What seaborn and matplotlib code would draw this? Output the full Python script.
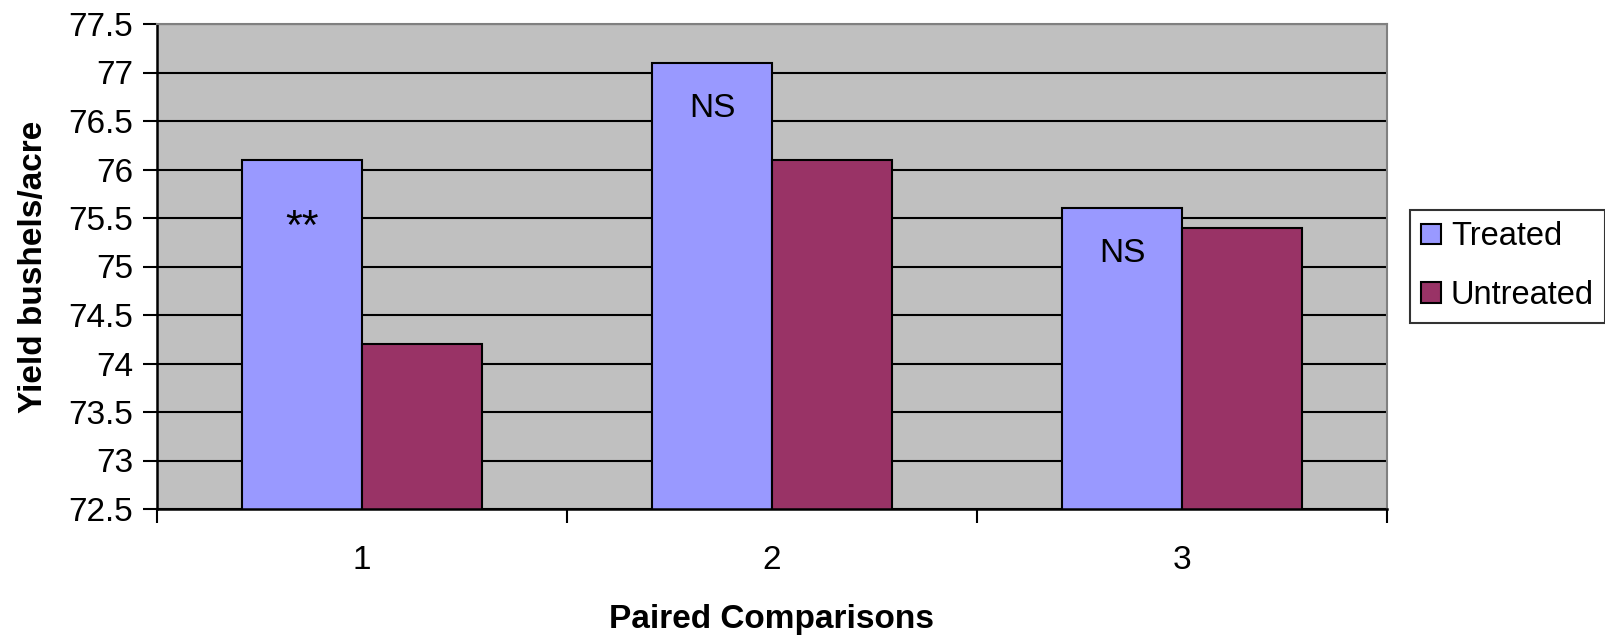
import matplotlib
matplotlib.use("Agg")
import matplotlib.pyplot as plt
import seaborn as sns
import pandas as pd
import numpy as np
from matplotlib.ticker import FixedLocator, FixedFormatter

categories = ["1", "2", "3"]
treated = [76.1, 77.1, 75.6]
untreated = [74.2, 76.1, 75.4]
annotations = ["**", "NS", "NS"]
annotation_y = [75.4, 76.63, 75.13]
series_names = ["Treated", "Untreated"]
yticks = [72.5, 73, 73.5, 74, 74.5, 75, 75.5, 76, 76.5, 77, 77.5]
ytick_labels = ["72.5", "73", "73.5", "74", "74.5", "75", "75.5", "76", "76.5", "77", "77.5"]

df = pd.DataFrame({
    "Comparison": categories * 2,
    "Yield": treated + untreated,
    "Group": [series_names[0]] * 3 + [series_names[1]] * 3,
})

sns.set_theme(style="white")
plt.rcParams["font.family"] = ["Liberation Sans", "DejaVu Sans"]
plt.rcParams["text.color"] = "black"
plt.rcParams["axes.labelcolor"] = "black"
plt.rcParams["xtick.color"] = "black"
plt.rcParams["ytick.color"] = "black"

W, H = 1606, 635
fig = plt.figure(figsize=(W / 100, H / 100), dpi=100)
ax = fig.add_axes([157 / W, 1 - 509 / H, (1387 - 157) / W, (509 - 24) / H])

palette = {"Treated": "#9999FF", "Untreated": "#993366"}
sns.barplot(data=df, x="Comparison", y="Yield", hue="Group", order=categories,
            hue_order=series_names, palette=palette, width=0.585, dodge=True,
            edgecolor="black", linewidth=1.5, saturation=1, ax=ax, legend=True)

ax.set_ylim(72.5, 77.5)
ax.set_xlim(-0.5, 2.5)
ax.set_facecolor("#C0C0C0")
ax.set_yticks(yticks)
ax.set_yticklabels(ytick_labels)
ax.yaxis.grid(True, color="black", linewidth=1.5)
ax.xaxis.grid(False)
ax.set_axisbelow(True)

# x ticks at category boundaries, labels at centres
ax.xaxis.set_major_locator(FixedLocator([-0.5, 0.5, 1.5, 2.5]))
ax.xaxis.set_major_formatter(FixedFormatter(["", "", "", ""]))
ax.xaxis.set_minor_locator(FixedLocator([0, 1, 2]))
ax.xaxis.set_minor_formatter(FixedFormatter(categories))
ax.tick_params(axis="x", which="major", direction="out", length=10, width=1.5,
               color="black", bottom=True)
ax.tick_params(axis="x", which="minor", length=0, labelsize=24, pad=26, bottom=True,
               labelcolor="black")
ax.tick_params(axis="y", direction="out", length=10, width=1.5, color="black",
               labelsize=24, pad=7, left=True, labelcolor="black")

for s in ["left", "bottom"]:
    ax.spines[s].set_color("black")
    ax.spines[s].set_linewidth(1.8)
for s in ["top", "right"]:
    ax.spines[s].set_color("#808080")
    ax.spines[s].set_linewidth(1.5)

ax.set_xlabel("Paired Comparisons", fontsize=24, fontweight="bold", labelpad=20,
              color="black")
ax.set_ylabel("Yield bushels/acre", fontsize=24, fontweight="bold", labelpad=14,
              color="black")

# annotations inside treated bars
treated_bars = ax.containers[0]
for bar, txt, ty in zip(treated_bars, annotations, annotation_y):
    cx = bar.get_x() + bar.get_width() / 2
    ax.text(cx, ty, txt, ha="center", va="center",
            fontsize=31 if txt == "**" else 24, color="black")

leg = ax.get_legend()
handles = leg.legend_handles
leg.remove()
lg = fig.legend(handles, series_names, loc="upper left",
                bbox_to_anchor=(1410 / W, 1 - 210 / H), bbox_transform=fig.transFigure,
                frameon=True, fancybox=False, fontsize=23.5, handlelength=0.6,
                handleheight=0.6, handletextpad=0.3, borderpad=0.35, labelspacing=0.85,
                borderaxespad=0, labelcolor="black")
lg.get_frame().set_edgecolor("black")
lg.get_frame().set_linewidth(1.5)
for h in lg.legend_handles:
    h.set_edgecolor("black")
    h.set_linewidth(1.5)

fig.savefig("out.png", dpi=100)
